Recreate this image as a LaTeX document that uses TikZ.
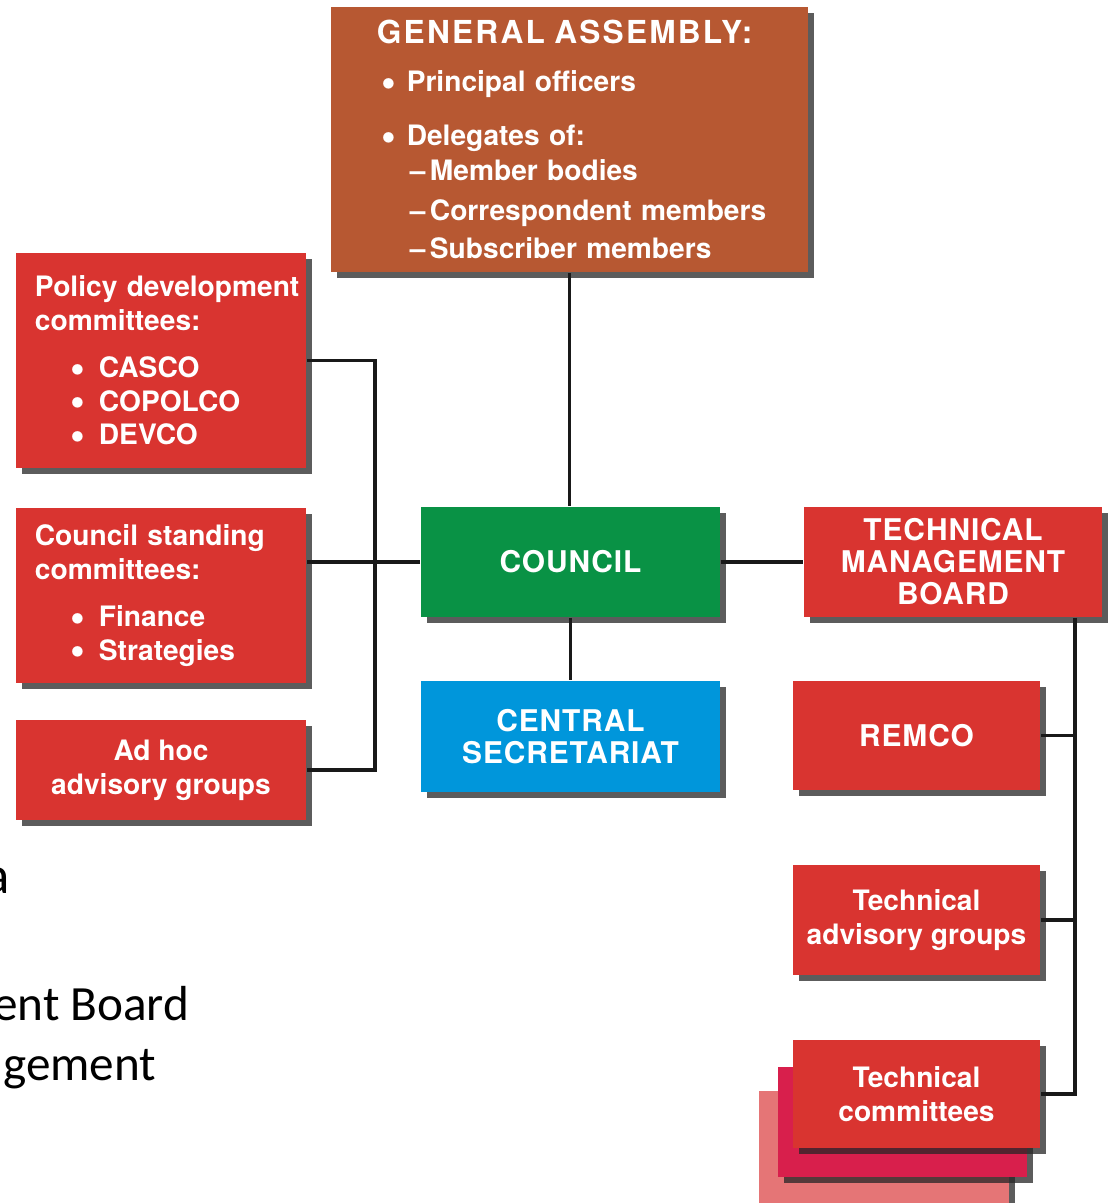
\documentclass[tikz,border=0pt]{standalone}
\usepackage{fontspec}
\setmainfont{TeX Gyre Heros}
\newfontfamily\headfont[LetterSpace=7]{TeX Gyre Heros}
\newfontfamily\capsfont[LetterSpace=3]{TeX Gyre Heros}
\newfontfamily\slidefont{Carlito}
\usetikzlibrary{shadows}

\definecolor{gaorange}{RGB}{183,88,50}
\definecolor{isored}{RGB}{217,52,48}
\definecolor{isogreen}{RGB}{9,146,69}
\definecolor{isoblue}{RGB}{0,150,219}
\definecolor{tcback}{RGB}{216,31,76}
\definecolor{tcpink}{RGB}{229,117,118}

\newcommand{\bigbullet}{\smash{\raisebox{-0.17em}{\scalebox{1.5}{\textbullet}}}}
\newcommand{\gaitem}[1]{\mbox{\hspace*{1.2pt}\makebox[7.3pt][l]{\bigbullet}#1}}
\newcommand{\gasub}[1]{\mbox{\hspace*{9.4pt}\makebox[5.7pt][l]{--}#1}}
\newcommand{\cmitem}[1]{\mbox{\hspace*{10pt}\makebox[8.2pt][l]{\bigbullet}#1}}

\begin{document}
\begin{tikzpicture}[x=0.01cm,y=-0.01cm,
  box/.style={rectangle,fill=#1,text=white,inner sep=0pt,
    drop shadow={shadow xshift=1.8pt,shadow yshift=-1.8pt,fill=black!85,opacity=.75}},
  bodytext/.style={font=\fontsize{8}{9.6}\selectfont\bfseries},
  capstext/.style={font=\capsfont\fontsize{8.5}{9.1}\selectfont\bfseries,align=center},
  slidetext/.style={font=\slidefont\fontsize{14}{16}\selectfont,inner sep=0pt,anchor=base east},
  link/.style={line width=1.05pt,draw=black!90}]

\useasboundingbox (0,0) rectangle (1109,1203);
\clip (0,0) rectangle (1109,1203);

\def\lx{161} \def\mx{570.5} \def\rx{953} \def\sx{916.5}

\node [slidetext,font=\slidefont\fontsize{15}{17}\selectfont] (frag_a) at (10,893) {a};
\node [slidetext] (frag_board) at (190,1020) {ent Board};
\node [slidetext] (frag_gement) at (157,1080) {gement};

\node [box=gaorange,minimum width=4.77cm,minimum height=2.65cm,text width=3.85cm,inner xsep=0.46cm,
  align=left,font=\fontsize{8}{10.8}\selectfont\bfseries] (ga) at (569.5,139.5)
  {\mbox{\headfont\fontsize{9}{10.8}\selectfont GENERAL ASSEMBLY:}\\[2.8pt]
   \gaitem{Principal officers}\\[4.6pt]
   \gaitem{Delegates of:}\\[-0.9pt]
   \gasub{Member bodies}\\[0.6pt]
   \gasub{Correspondent members}\\
   \gasub{Subscriber members}};

\node [box=isored,bodytext,minimum width=2.9cm,minimum height=2.15cm,text width=2.52cm,inner xsep=0.19cm,
  align=left] (policy) at (\lx,360.5)
  {\mbox{Policy development}\\ committees:\\[3.7pt]
   \cmitem{CASCO}\\ \cmitem{COPOLCO}\\ \cmitem{DEVCO}};
\node [box=isored,bodytext,minimum width=2.9cm,minimum height=1.75cm,text width=2.52cm,inner xsep=0.19cm,
  align=left] (standing) at (\lx,595.5)
  {\mbox{Council standing}\\ committees:\\[3.7pt]
   \cmitem{Finance}\\ \cmitem{Strategies}};
\node [box=isored,bodytext,minimum width=2.9cm,minimum height=1cm,align=center] (adhoc) at (\lx,770)
  {Ad hoc\\ advisory groups};

\node [box=isogreen,capstext,minimum width=2.99cm,minimum height=1.1cm] (council) at (\mx,562) {COUNCIL};
\node [box=isoblue,capstext,minimum width=2.99cm,minimum height=1.11cm] (secretariat) at (\mx,736.5)
  {CENTRAL\\ SECRETARIAT};

\node [box=isored,capstext,minimum width=2.98cm,minimum height=1.1cm] (tmb) at (\rx,562)
  {TECHNICAL\\ MANAGEMENT\\ BOARD};
\node [box=isored,capstext,minimum width=2.47cm,minimum height=1.09cm] (remco) at (\sx,735.5) {REMCO};
\node [box=isored,bodytext,minimum width=2.47cm,minimum height=1.1cm,align=center] (tag) at (\sx,920)
  {Technical\\ advisory groups};
\node [box=tcpink,minimum width=2.5cm,minimum height=1.12cm] (tc_back2) at (884,1147) {};
\node [box=tcback,minimum width=2.49cm,minimum height=1.1cm] (tc_back1) at (902.5,1122) {};
\node [box=isored,bodytext,minimum width=2.47cm,minimum height=1.08cm,align=center] (tc) at (\sx,1094)
  {Technical\\ committees};

\coordinate (lbus) at (375,0);
\coordinate (rbus) at (1075,0);

\draw [link] (ga.south) -- (ga.south |- council.north);
\draw [link] (council) -- (secretariat);
\draw [link] (council) -- (tmb);
\draw [link] (policy.east) -| (lbus |- adhoc.east) -- (adhoc.east);
\draw [link] (council.west) -- (council.west -| standing.east);
\draw [link] (tmb.south -| rbus) |- (tc.east);
\draw [link] (remco.east) -- (remco.east -| rbus);
\draw [link] (tag.east) -- (tag.east -| rbus);
\end{tikzpicture}
\end{document}
